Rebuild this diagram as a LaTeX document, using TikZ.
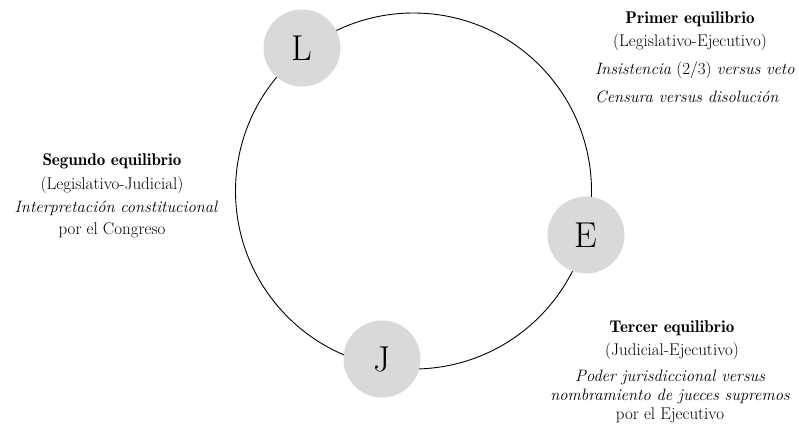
\documentclass[tikz,border=0pt]{standalone}
\newcommand{\hdtxt}[1]{{\fontseries{b}\selectfont #1}}
\newcommand{\ittxt}[1]{{\fontsize{16.5}{20}\itshape\selectfont #1}}
\begin{document}
\begin{tikzpicture}[x=1pt,y=-1pt,
  pnode/.style={circle,fill=black!15,minimum size=77pt,inner sep=0pt,font=\fontsize{36}{40}\selectfont},
  ring/.style={draw,circle,line width=0.9pt,minimum size=356pt,inner sep=0pt},
  txt/.style={font=\fontsize{17}{20}\selectfont,inner sep=0pt,anchor=base}]
\useasboundingbox (0,0) rectangle (799,429);
\node[ring] (C) at (413.5,191) {};
\node[pnode] (L) at (302,48) {L};
\node[pnode] (E) at (586,235) {E};
\node[pnode] (J) at (382,359) {J};
% Primer
\node[txt] (p1) at (690,23) {\hdtxt{Primer equilibrio}};
\node[txt] (p2) at (690,46) {(Legislativo-Ejecutivo)};
\node[txt,anchor=base west] (p3) at (595,74) {\ittxt{Insistencia} (2/3) \ittxt{versus veto}};
\node[txt,anchor=base west] (p4) at (595,102) {\ittxt{Censura versus disolución}};
% Segundo
\node[txt] (s1) at (112,165) {\hdtxt{Segundo equilibrio}};
\node[txt] (s2) at (112,189) {(Legislativo-Judicial)};
\node[txt] (s3) at (116,212) {\ittxt{Interpretación constitucional}};
\node[txt] (s4) at (112,234) {por el Congreso};
% Tercer
\node[txt] (t1) at (672,332) {\hdtxt{Tercer equilibrio}};
\node[txt] (t2) at (672,355) {(Judicial-Ejecutivo)};
\node[txt] (t3) at (670,381) {\ittxt{Poder jurisdiccional versus}};
\node[txt] (t4) at (670,400) {\ittxt{nombramiento de jueces supremos}};
\node[txt] (t5) at (670,419) {por el Ejecutivo};
\end{tikzpicture}
\end{document}
